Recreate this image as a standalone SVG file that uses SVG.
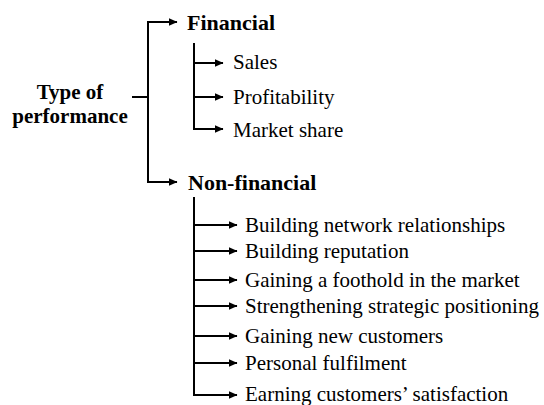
<svg xmlns="http://www.w3.org/2000/svg" width="544" height="405" viewBox="0 0 544 405">
<defs>
<marker id="ah" markerUnits="userSpaceOnUse" markerWidth="9" markerHeight="8" refX="8.5" refY="4" orient="auto">
<path d="M0,0 L9,4 L0,8 z" fill="#000"/>
</marker>
<style>
.c{fill:none;stroke:#000;stroke-width:2}
.a{marker-end:url(#ah)}
text{font-family:'Liberation Serif','Times New Roman',Times,'DejaVu Serif',serif;fill:#000}
.h{font-weight:bold;font-size:22px}
.r{font-weight:bold;font-size:21px}
.t{font-size:21px}
</style>
</defs>
<rect width="544" height="405" fill="#fff"/>
<g id="connectors">
<path class="c" d="M132,97 H148 M148,22 V182"/>
<path class="c a" d="M147,22 H177"/>
<path class="c a" d="M147,182 H177"/>
<path class="c" d="M194,43 V129"/>
<path class="c a" d="M194,63 H223"/>
<path class="c a" d="M194,97 H223"/>
<path class="c a" d="M193,129 H223"/>
<path class="c" d="M194,197 V395"/>
<path class="c a" d="M194,225 H237"/>
<path class="c a" d="M194,251 H237"/>
<path class="c a" d="M194,280 H237"/>
<path class="c a" d="M194,306 H237"/>
<path class="c a" d="M194,336 H237"/>
<path class="c a" d="M194,363 H237"/>
<path class="c a" d="M193,395 H237"/>
</g>
<g id="root"><text class="r" x="70" y="99" text-anchor="middle">Type of</text><text class="r" x="70" y="123" text-anchor="middle">performance</text></g>
<g id="financial"><text class="h" x="187" y="30">Financial</text></g>
<g id="sales"><text class="t" x="233" y="69">Sales</text></g>
<g id="profitability"><text class="t" x="233" y="104">Profitability</text></g>
<g id="market-share"><text class="t" x="233" y="137">Market share</text></g>
<g id="non-financial"><text class="h" x="188" y="190">Non-financial</text></g>
<g id="n1"><text class="t" x="245" y="232">Building network relationships</text></g>
<g id="n2"><text class="t" x="245" y="258">Building reputation</text></g>
<g id="n3"><text class="t" x="245" y="287">Gaining a foothold in the market</text></g>
<g id="n4"><text class="t" x="245" y="313">Strengthening strategic positioning</text></g>
<g id="n5"><text class="t" x="245" y="343">Gaining new customers</text></g>
<g id="n6"><text class="t" x="245" y="370">Personal fulfilment</text></g>
<g id="n7"><text class="t" x="245" y="401">Earning customers’ satisfaction</text></g>
</svg>
